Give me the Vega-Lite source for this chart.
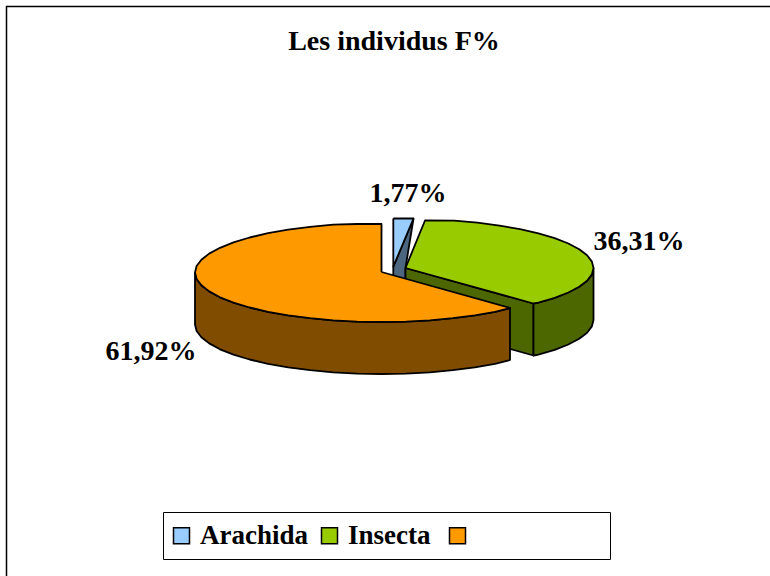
{"$schema":"https://vega.github.io/schema/vega-lite/v6.json","width":770,"height":576,"autosize":"none","padding":0,"background":"white","view":{"stroke":null},
"title":{"text":"Les individus F%","frame":"group","anchor":"middle","font":"Liberation Serif","fontSize":28,"fontWeight":"bold","color":"black","dx":9,"dy":56,"offset":0},
"config":{"font":"Liberation Serif"},
"datasets":{"outline":[
{"f":"Arachida côté","p":"a","o":1,"x":413.5,"y":218.5},{"f":"Arachida côté","p":"a","o":2,"x":393.3,"y":266.7},{"f":"Arachida côté","p":"a","o":3,"x":393.3,"y":300},{"f":"Arachida côté","p":"a","o":4,"x":405.5,"y":300},{"f":"Arachida côté","p":"a","o":5,"x":405.5,"y":268},{"f":"Arachida côté","p":"a","o":6,"x":413.5,"y":218.5},
{"f":"Arachida","p":"a","o":1,"x":393.3,"y":218.5},{"f":"Arachida","p":"a","o":2,"x":413.5,"y":218.5},{"f":"Arachida","p":"a","o":3,"x":393.3,"y":266.7},{"f":"Arachida","p":"a","o":4,"x":393.3,"y":218.5},
{"f":"Insecta côté","p":"i","o":1,"x":405.5,"y":268},{"f":"Insecta côté","p":"i","o":2,"x":533.5,"y":303.5},{"f":"Insecta côté","p":"i","o":3,"x":533.5,"y":355.5},{"f":"Insecta côté","p":"i","o":4,"x":405.5,"y":320},{"f":"Insecta côté","p":"i","o":5,"x":405.5,"y":268},
{"f":"Insecta côté","p":"e","o":1,"x":533.5,"y":303.5},{"f":"Insecta côté","p":"e","o":2,"x":538.4,"y":302.6},{"f":"Insecta côté","p":"e","o":3,"x":554.7,"y":297.8},{"f":"Insecta côté","p":"e","o":4,"x":568.3,"y":292.5},{"f":"Insecta côté","p":"e","o":5,"x":579.2,"y":286.8},{"f":"Insecta côté","p":"e","o":6,"x":587.1,"y":280.7},{"f":"Insecta côté","p":"e","o":7,"x":591.9,"y":274.4},{"f":"Insecta côté","p":"e","o":8,"x":593.5,"y":268},{"f":"Insecta côté","p":"e","o":9,"x":593.5,"y":320},{"f":"Insecta côté","p":"e","o":10,"x":591.9,"y":326.4},{"f":"Insecta côté","p":"e","o":11,"x":587.1,"y":332.7},{"f":"Insecta côté","p":"e","o":12,"x":579.2,"y":338.8},{"f":"Insecta côté","p":"e","o":13,"x":568.3,"y":344.5},{"f":"Insecta côté","p":"e","o":14,"x":554.7,"y":349.8},{"f":"Insecta côté","p":"e","o":15,"x":538.4,"y":354.6},{"f":"Insecta côté","p":"e","o":16,"x":533.5,"y":355.5},{"f":"Insecta côté","p":"e","o":17,"x":533.5,"y":303.5},
{"f":"Insecta","p":"t","o":1,"x":405.5,"y":268},{"f":"Insecta","p":"t","o":2,"x":425,"y":220.5},{"f":"Insecta","p":"t","o":3,"x":454.2,"y":220.7},{"f":"Insecta","p":"t","o":4,"x":477.4,"y":222.7},{"f":"Insecta","p":"t","o":5,"x":499.5,"y":225.6},{"f":"Insecta","p":"t","o":6,"x":520,"y":229.1},{"f":"Insecta","p":"t","o":7,"x":538.4,"y":233.4},{"f":"Insecta","p":"t","o":8,"x":554.7,"y":238.2},{"f":"Insecta","p":"t","o":9,"x":568.3,"y":243.5},{"f":"Insecta","p":"t","o":10,"x":579.2,"y":249.2},{"f":"Insecta","p":"t","o":11,"x":587.1,"y":255.3},{"f":"Insecta","p":"t","o":12,"x":591.9,"y":261.6},{"f":"Insecta","p":"t","o":13,"x":593.5,"y":268},{"f":"Insecta","p":"t","o":14,"x":591.9,"y":274.4},{"f":"Insecta","p":"t","o":15,"x":587.1,"y":280.7},{"f":"Insecta","p":"t","o":16,"x":579.2,"y":286.8},{"f":"Insecta","p":"t","o":17,"x":568.3,"y":292.5},{"f":"Insecta","p":"t","o":18,"x":554.7,"y":297.8},{"f":"Insecta","p":"t","o":19,"x":538.4,"y":302.6},{"f":"Insecta","p":"t","o":20,"x":533.5,"y":303.5},{"f":"Insecta","p":"t","o":21,"x":405.5,"y":268},
{"f":"Autres côté","p":"s","o":1,"x":195,"y":272.5},{"f":"Autres côté","p":"s","o":2,"x":196.6,"y":279},{"f":"Autres côté","p":"s","o":3,"x":201.4,"y":285.3},{"f":"Autres côté","p":"s","o":4,"x":209.2,"y":291.4},{"f":"Autres côté","p":"s","o":5,"x":220,"y":297.3},{"f":"Autres côté","p":"s","o":6,"x":233.5,"y":302.6},{"f":"Autres côté","p":"s","o":7,"x":249.6,"y":307.5},{"f":"Autres côté","p":"s","o":8,"x":268,"y":311.8},{"f":"Autres côté","p":"s","o":9,"x":288.2,"y":315.4},{"f":"Autres côté","p":"s","o":10,"x":310.1,"y":318.2},{"f":"Autres côté","p":"s","o":11,"x":333.2,"y":320.3},{"f":"Autres côté","p":"s","o":12,"x":357.2,"y":321.6},{"f":"Autres côté","p":"s","o":13,"x":381.5,"y":322},{"f":"Autres côté","p":"s","o":14,"x":405.8,"y":321.6},{"f":"Autres côté","p":"s","o":15,"x":429.8,"y":320.3},{"f":"Autres côté","p":"s","o":16,"x":452.9,"y":318.2},{"f":"Autres côté","p":"s","o":17,"x":474.8,"y":315.4},{"f":"Autres côté","p":"s","o":18,"x":495,"y":311.8},{"f":"Autres côté","p":"s","o":19,"x":510,"y":308},{"f":"Autres côté","p":"s","o":20,"x":510,"y":360},{"f":"Autres côté","p":"s","o":21,"x":495,"y":363.8},{"f":"Autres côté","p":"s","o":22,"x":474.8,"y":367.4},{"f":"Autres côté","p":"s","o":23,"x":452.9,"y":370.2},{"f":"Autres côté","p":"s","o":24,"x":429.8,"y":372.3},{"f":"Autres côté","p":"s","o":25,"x":405.8,"y":373.6},{"f":"Autres côté","p":"s","o":26,"x":381.5,"y":374},{"f":"Autres côté","p":"s","o":27,"x":357.2,"y":373.6},{"f":"Autres côté","p":"s","o":28,"x":333.2,"y":372.3},{"f":"Autres côté","p":"s","o":29,"x":310.1,"y":370.2},{"f":"Autres côté","p":"s","o":30,"x":288.2,"y":367.4},{"f":"Autres côté","p":"s","o":31,"x":268,"y":363.8},{"f":"Autres côté","p":"s","o":32,"x":249.6,"y":359.5},{"f":"Autres côté","p":"s","o":33,"x":233.5,"y":354.6},{"f":"Autres côté","p":"s","o":34,"x":220,"y":349.3},{"f":"Autres côté","p":"s","o":35,"x":209.2,"y":343.4},{"f":"Autres côté","p":"s","o":36,"x":201.4,"y":337.3},{"f":"Autres côté","p":"s","o":37,"x":196.6,"y":331},{"f":"Autres côté","p":"s","o":38,"x":195,"y":324.5},{"f":"Autres côté","p":"s","o":39,"x":195,"y":272.5},
{"f":"Autres","p":"t","o":1,"x":381.5,"y":272},{"f":"Autres","p":"t","o":2,"x":381.5,"y":224},{"f":"Autres","p":"t","o":3,"x":357.2,"y":224},{"f":"Autres","p":"t","o":4,"x":333.2,"y":224.7},{"f":"Autres","p":"t","o":5,"x":310.1,"y":226.8},{"f":"Autres","p":"t","o":6,"x":288.2,"y":229.6},{"f":"Autres","p":"t","o":7,"x":268,"y":233.2},{"f":"Autres","p":"t","o":8,"x":249.6,"y":237.5},{"f":"Autres","p":"t","o":9,"x":233.5,"y":242.4},{"f":"Autres","p":"t","o":10,"x":220,"y":247.8},{"f":"Autres","p":"t","o":11,"x":209.2,"y":253.6},{"f":"Autres","p":"t","o":12,"x":201.4,"y":259.7},{"f":"Autres","p":"t","o":13,"x":196.6,"y":266},{"f":"Autres","p":"t","o":14,"x":195,"y":272.5},{"f":"Autres","p":"t","o":15,"x":196.6,"y":279},{"f":"Autres","p":"t","o":16,"x":201.4,"y":285.3},{"f":"Autres","p":"t","o":17,"x":209.2,"y":291.4},{"f":"Autres","p":"t","o":18,"x":220,"y":297.3},{"f":"Autres","p":"t","o":19,"x":233.5,"y":302.6},{"f":"Autres","p":"t","o":20,"x":249.6,"y":307.5},{"f":"Autres","p":"t","o":21,"x":268,"y":311.8},{"f":"Autres","p":"t","o":22,"x":288.2,"y":315.4},{"f":"Autres","p":"t","o":23,"x":310.1,"y":318.2},{"f":"Autres","p":"t","o":24,"x":333.2,"y":320.3},{"f":"Autres","p":"t","o":25,"x":357.2,"y":321.6},{"f":"Autres","p":"t","o":26,"x":381.5,"y":322},{"f":"Autres","p":"t","o":27,"x":405.8,"y":321.6},{"f":"Autres","p":"t","o":28,"x":429.8,"y":320.3},{"f":"Autres","p":"t","o":29,"x":452.9,"y":318.2},{"f":"Autres","p":"t","o":30,"x":474.8,"y":315.4},{"f":"Autres","p":"t","o":31,"x":495,"y":311.8},{"f":"Autres","p":"t","o":32,"x":510,"y":308},{"f":"Autres","p":"t","o":33,"x":381.5,"y":272}
]},
"encoding":{"x":{"field":"x","type":"quantitative","axis":null,"scale":{"domain":[0,770],"nice":false,"zero":false}},"y":{"field":"y","type":"quantitative","axis":null,"scale":{"domain":[576,0],"nice":false,"zero":false}}},
"layer":[
{"data":{"values":[{"o":1,"x":770,"y":6.5},{"o":2,"x":6.5,"y":6.5},{"o":3,"x":6.5,"y":576}]},"mark":{"type":"line","stroke":"black","strokeWidth":1.5},"encoding":{"order":{"field":"o"}}},
{"data":{"name":"outline"},"mark":{"type":"line","stroke":"black","strokeWidth":1.8,"strokeJoin":"round"},
"encoding":{"order":{"field":"o"},"detail":{"field":"p"},
"fill":{"field":"f","type":"nominal","scale":{"domain":["Arachida","Insecta","Autres","Arachida côté","Insecta côté","Autres côté"],"range":["#99CCFF","#99CC00","#FF9900","#4C667F","#4C6600","#7F4C00"]},
"legend":{"values":["Arachida","Insecta","Autres"],"title":null,"orient":"none","legendX":163,"legendY":512,"direction":"horizontal","columns":3,"padding":10,"fillColor":"white","strokeColor":"black","symbolType":"square","symbolSize":256,"symbolStrokeColor":"black","symbolStrokeWidth":1.5,"symbolOpacity":1,"symbolOffset":-5,"labelFont":"Liberation Serif","labelFontSize":27,"labelFontWeight":"bold","labelColor":"black","labelLimit":400,"labelOffset":5,"columnPadding":10,"labelExpr":"datum.label === 'Autres' ? '\u200b\u00a0\u00a0\u00a0\u00a0\u00a0\u00a0\u00a0\u00a0\u00a0\u00a0\u00a0\u00a0\u00a0\u00a0\u00a0\u00a0\u00a0\u00a0\u200a\u200b' : datum.label === 'Insecta' ? 'Insecta\u2009\u200b' : datum.label"}}}},
{"data":{"values":[{"t":"1,77%","x":408,"y":194},{"t":"36,31%","x":639,"y":242},{"t":"61,92%","x":151,"y":352}]},"mark":{"type":"text","font":"Liberation Serif","fontSize":28,"fontWeight":"bold","color":"black","align":"center","baseline":"middle"},"encoding":{"text":{"field":"t"}}},
{"data":{"values":[{"t":"l","x":597,"y":538}]},"mark":{"type":"text","font":"Liberation Serif","fontSize":12,"color":"black","align":"center","baseline":"middle"},"encoding":{"text":{"field":"t"}}}
]}
